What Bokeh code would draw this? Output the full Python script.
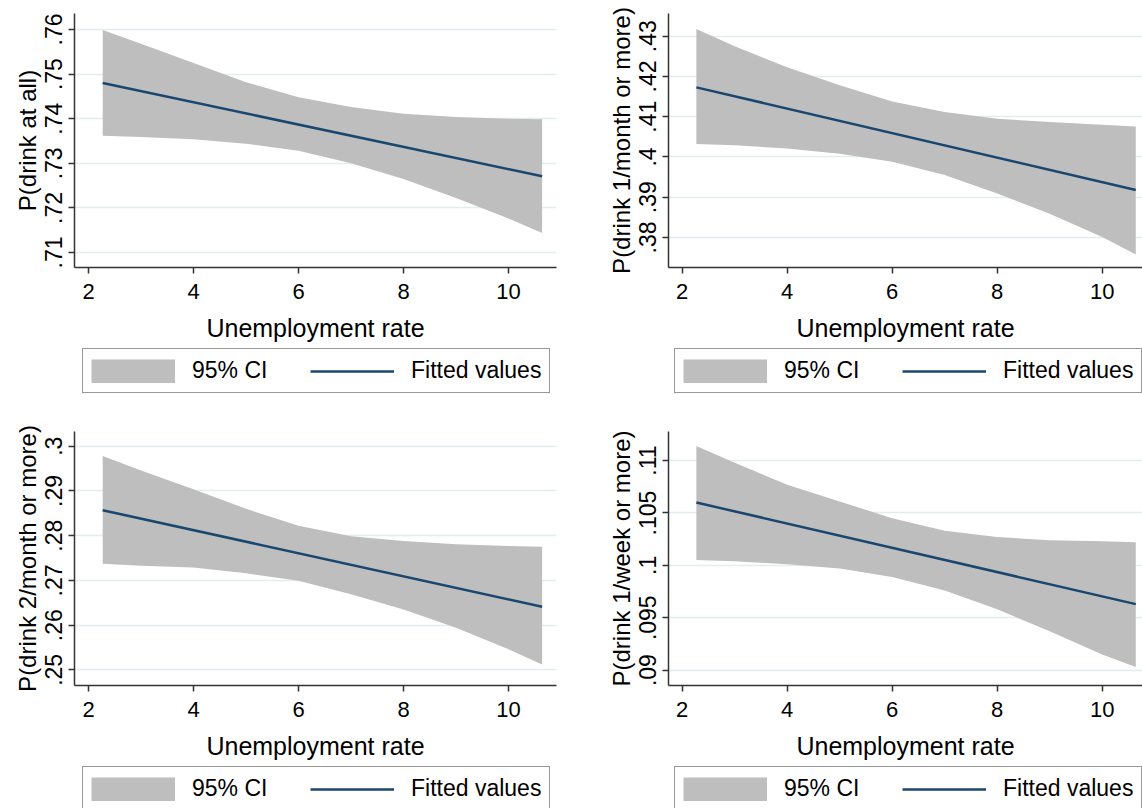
from bokeh.plotting import figure
from bokeh.models import (FixedTicker, CustomJSTickFormatter, Legend, LegendItem,
                          Range1d)
from bokeh.layouts import column, row
from bokeh.embed import file_html
from bokeh.resources import INLINE

# ---------------- data ----------------
x_band = [2.27, 3, 4, 5, 6, 7, 8, 9, 10, 10.64]
x_fit = [2.27, 10.64]
x_label = "Unemployment rate"
x_ticks = [2, 4, 6, 8, 10]
x_tick_labels = ["2", "4", "6", "8", "10"]

# panel 1: P(drink at all)
label1 = "P(drink at all)"
upper1 = [0.7599, 0.7568, 0.7525, 0.7482, 0.7448, 0.7426, 0.7411, 0.7404, 0.7400, 0.7399]
lower1 = [0.7362, 0.7359, 0.7354, 0.7344, 0.7328, 0.7300, 0.7265, 0.7222, 0.7176, 0.7144]
fit1 = [0.7480, 0.7271]
yticks1 = [0.71, 0.72, 0.73, 0.74, 0.75, 0.76]
ylabels1 = [".71", ".72", ".73", ".74", ".75", ".76"]

# panel 2: P(drink 1/month or more)
label2 = "P(drink 1/month or more)"
upper2 = [0.4318, 0.4275, 0.4223, 0.4178, 0.4138, 0.4112, 0.4095, 0.4087, 0.4080, 0.4076]
lower2 = [0.4032, 0.4029, 0.4021, 0.4008, 0.3988, 0.3955, 0.3909, 0.3859, 0.3801, 0.3758]
fit2 = [0.4173, 0.3918]
yticks2 = [0.38, 0.39, 0.40, 0.41, 0.42, 0.43]
ylabels2 = [".38", ".39", ".4", ".41", ".42", ".43"]

# panel 3: P(drink 2/month or more)
label3 = "P(drink 2/month or more)"
upper3 = [0.2978, 0.2946, 0.2904, 0.2860, 0.2822, 0.2799, 0.2788, 0.2781, 0.2777, 0.2775]
lower3 = [0.2737, 0.2733, 0.2729, 0.2716, 0.2699, 0.2669, 0.2635, 0.2594, 0.2546, 0.2512]
fit3 = [0.2857, 0.2641]
yticks3 = [0.25, 0.26, 0.27, 0.28, 0.29, 0.30]
ylabels3 = [".25", ".26", ".27", ".28", ".29", ".3"]

# panel 4: P(drink 1/week or more)
label4 = "P(drink 1/week or more)"
upper4 = [0.1114, 0.1098, 0.1077, 0.1061, 0.1045, 0.1033, 0.1027, 0.1024, 0.1023, 0.1022]
lower4 = [0.1005, 0.1004, 0.1001, 0.0997, 0.0989, 0.0976, 0.0958, 0.0937, 0.0915, 0.0903]
fit4 = [0.1060, 0.0963]
yticks4 = [0.09, 0.095, 0.10, 0.105, 0.11]
ylabels4 = [".09", ".095", ".1", ".105", ".11"]

legend_labels = ["95% CI", "Fitted values"]

# ---------------- styling ----------------
FONT = "Liberation Sans"
BAND = "#BEBEBE"
LINE = "#1A476F"
AXIS = "#333333"
GRID = "#E3EDF0"

FMT_CODE = """
let best = 0, bd = 1e9;
for (let k = 0; k < tvals.length; k++) {
  const d = Math.abs(tvals[k] - tick);
  if (d < bd) { bd = d; best = k; }
}
return tlabs[best];
"""


def style_axis(ax, ticks, labels, font_size):
    ax.ticker = FixedTicker(ticks=ticks)
    ax.formatter = CustomJSTickFormatter(args=dict(tvals=ticks, tlabs=labels), code=FMT_CODE)
    ax.minor_tick_line_color = None
    ax.major_tick_in = 0
    ax.major_tick_out = 6
    ax.axis_line_color = AXIS
    ax.axis_line_width = 1.5
    ax.major_tick_line_color = AXIS
    ax.major_tick_line_width = 1.5
    ax.major_label_text_font = FONT
    ax.major_label_text_font_size = font_size
    ax.major_label_text_color = "black"
    ax.axis_label_text_font = FONT
    ax.axis_label_text_font_style = "normal"
    ax.axis_label_text_color = "black"


def panel(ylab, upper, lower, fit, yticks, ylabels, xr, yr,
          width, height, bl, br, bt, bb, leg_height, leg_xy):
    p = figure(width=width, height=height, x_range=Range1d(*xr), y_range=Range1d(*yr),
               output_backend="svg", toolbar_location=None,
               min_border_left=bl, min_border_right=br,
               min_border_top=bt, min_border_bottom=bb)
    p.outline_line_color = None
    p.background_fill_color = "white"
    p.border_fill_color = "white"

    p.varea(x=x_band, y1=lower, y2=upper, fill_color=BAND, fill_alpha=1.0)
    p.line(x=x_fit, y=fit, line_color=LINE, line_width=2.5)

    p.xgrid.visible = False
    p.ygrid.grid_line_color = GRID
    p.ygrid.grid_line_width = 1.5

    xa = p.xaxis[0]
    style_axis(xa, x_ticks, x_tick_labels, "22px")
    xa.major_label_standoff = 10
    xa.axis_label = x_label
    xa.axis_label_text_font_size = "25px"
    xa.axis_label_standoff = 12

    ya = p.yaxis[0]
    style_axis(ya, yticks, ylabels, "23px")
    ya.major_label_orientation = "vertical"
    ya.major_label_standoff = 6
    ya.axis_label = ylab
    ya.axis_label_text_font_size = "24px"
    ya.axis_label_standoff = 2

    # legend box underneath, in its own strip; its keys take their look from
    # renderers of the same data that lie outside the strip's visible range
    q = figure(width=width, height=leg_height, x_range=Range1d(100, 101), y_range=yr,
               output_backend="svg", toolbar_location=None,
               x_axis_type=None, y_axis_type=None,
               min_border_left=0, min_border_right=0, min_border_top=0, min_border_bottom=0)
    q.outline_line_color = None
    q.background_fill_color = "white"
    q.border_fill_color = "white"
    qb = q.line(x=x_band, y=upper, line_color=BAND, line_width=24)   # key: 84x24 grey block
    ql = q.line(x=x_fit, y=fit, line_color=LINE, line_width=2.5)

    leg = Legend(items=[LegendItem(label=legend_labels[0], renderers=[qb]),
                        LegendItem(label=legend_labels[1], renderers=[ql])],
                 orientation="horizontal", location=leg_xy)
    leg.glyph_width = 84
    leg.glyph_height = 24
    leg.label_standoff = 17
    leg.label_width = 110
    leg.spacing = 8
    leg.padding = 8
    leg.margin = 0
    leg.label_text_font = FONT
    leg.label_text_font_size = "23px"
    leg.label_text_color = "black"
    leg.border_line_color = AXIS
    leg.border_line_width = 1.5
    leg.background_fill_color = "white"
    leg.background_fill_alpha = 1.0
    q.add_layout(leg, "center")
    return column(p, q)


XR_L = (1.733, 10.914)
XR_R = (1.739, 10.768)

c1 = panel(label1, upper1, lower1, fit1, yticks1, ylabels1, XR_L, (0.70664, 0.76359),
           600, 345, 74, 44, 13, 78, 60, (8, 12))
c2 = panel(label2, upper2, lower2, fit2, yticks2, ylabels2, XR_R, (0.37254, 0.43565),
           542, 345, 68, 0, 13, 78, 60, (6, 12))
c3 = panel(label3, upper3, lower3, fit3, yticks3, ylabels3, XR_L, (0.24650, 0.30330),
           600, 358, 74, 44, 26, 78, 45, (8, -3))
c4 = panel(label4, upper4, lower4, fit4, yticks4, ylabels4, XR_R, (0.08853, 0.11278),
           542, 358, 68, 0, 26, 78, 45, (6, -3))

layout = column(row(c1, c2), row(c3, c4))

open("out.html", "w").write(file_html(layout, INLINE))
